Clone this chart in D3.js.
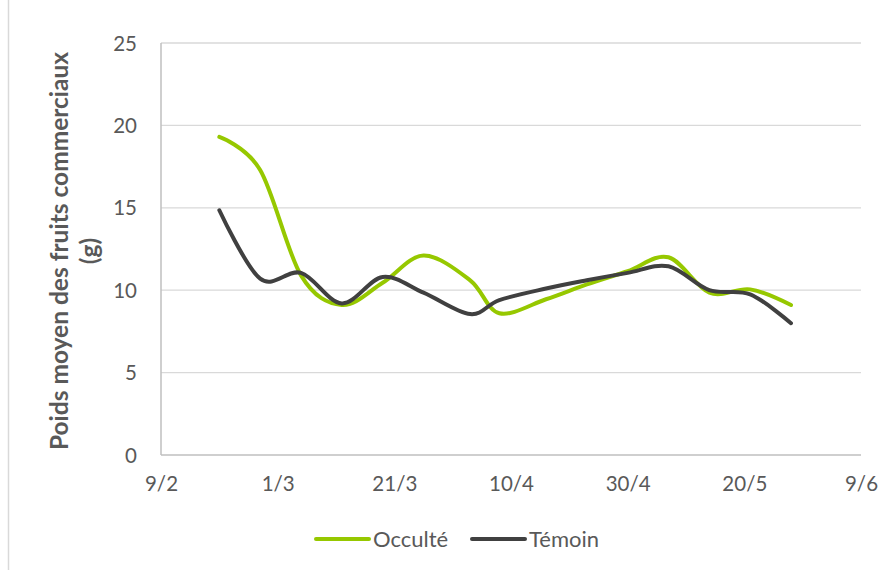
<!DOCTYPE html>
<html><head><meta charset="utf-8">
<script src="https://cdn.jsdelivr.net/npm/d3@7"></script>
<style>body{margin:0;background:#fff;} svg{display:block;}</style>
</head><body>
<svg id="c" width="890" height="570"></svg>
<script>
const dates = ["19/2","26/2","5/3","12/3","19/3","26/3","3/4","8/4","16/4","23/4","30/4","7/5","14/5","21/5","28/5"];
const occulte = [19.3,17.3,10.9,9.1,10.45,12.1,10.6,8.6,9.45,10.35,11.15,12.0,9.85,10.05,9.1];
const temoin  = [14.85,10.7,11.05,9.2,10.8,9.85,8.55,9.4,10.1,10.6,11.05,11.45,10.0,9.75,8.0];
const xTickLabels = ["9/2","1/3","21/3","10/4","30/4","20/5","9/6"];
const yTicks = [0,5,10,15,20,25];
const seriesNames = ["Occulté","Témoin"];
const seriesColors = ["#96C800","#404040"];

const YEAR = 2019;
const parse = s => { const [d,m] = s.split("/").map(Number); return new Date(Date.UTC(YEAR, m-1, d)); };

const svg = d3.select("#c");
const L = 161, R = 861, T = 43, B = 455;
const x = d3.scaleUtc().domain([parse("9/2"), parse("9/6")]).range([L, R]);
const y = d3.scaleLinear().domain([0,25]).range([B, T]);
const font = "Lato, 'Open Sans', sans-serif";
const txt = "#595959";

// chart outer border (left edge)
svg.append("line").attr("x1",8.5).attr("x2",8.5).attr("y1",0).attr("y2",570)
  .attr("stroke","#D9D9D9").attr("stroke-width",1.5);

// gridlines
svg.append("g").selectAll("line").data(yTicks.filter(v=>v>0)).join("line")
  .attr("x1",L).attr("x2",R).attr("y1",d=>y(d)).attr("y2",d=>y(d))
  .attr("stroke","#D9D9D9").attr("stroke-width",1.3);

// axes lines
svg.append("line").attr("x1",L).attr("x2",R).attr("y1",B).attr("y2",B).attr("stroke","#BFBFBF").attr("stroke-width",1.5);
svg.append("line").attr("x1",L).attr("x2",L).attr("y1",T).attr("y2",B).attr("stroke","#BFBFBF").attr("stroke-width",1.5);

// y axis labels
const yAxis = d3.axisLeft(y).tickValues(yTicks).tickSize(0).tickPadding(0);
const gy = svg.append("g").attr("transform",`translate(${L-24},0)`).call(yAxis);
gy.select(".domain").remove();
gy.selectAll("text").attr("font-family",font).attr("font-size",20.5).attr("fill",txt).attr("dy","0.35em");

// x axis labels
const xAxis = d3.axisBottom(x).tickValues(xTickLabels.map(parse)).tickFormat((d,i)=>xTickLabels[i]).tickSize(0).tickPadding(0);
const gx = svg.append("g").attr("transform",`translate(0,${B+21})`).call(xAxis);
gx.select(".domain").remove();
gx.selectAll("text").attr("font-family",font).attr("font-size",20.5).attr("fill",txt).attr("dy","0.71em");

// y axis title
const yt = svg.append("text").attr("transform",`translate(68,${(T+B)/2+2}) rotate(-90)`)
  .attr("text-anchor","middle").attr("font-family",font).attr("font-weight","bold")
  .attr("font-size",24.5).attr("fill",txt);
yt.append("tspan").attr("x",0).attr("dy",0).text("Poids moyen des fruits commerciaux");
yt.append("tspan").attr("x",0).attr("dy",30).text("(g)");

// lines
const line = d3.line().x(d=>x(parse(d[0]))).y(d=>y(d[1])).curve(d3.curveCardinal.tension(0));
[occulte, temoin].forEach((vals,i)=>{
  svg.append("path").datum(dates.map((d,j)=>[d,vals[j]]))
    .attr("d",line).attr("fill","none").attr("stroke",seriesColors[i])
    .attr("stroke-width",4).attr("stroke-linecap","round").attr("stroke-linejoin","round");
});

// legend
const lg = svg.append("g");
const legX = [316, 472];
seriesNames.forEach((n,i)=>{
  lg.append("line").attr("x1",legX[i]).attr("x2",legX[i]+53).attr("y1",539).attr("y2",539)
    .attr("stroke",seriesColors[i]).attr("stroke-width",4).attr("stroke-linecap","round");
  lg.append("text").attr("x",legX[i]+57).attr("y",539).attr("dy","0.35em")
    .attr("font-family",font).attr("font-size",22).attr("fill",txt).text(n);
});
</script>
</body></html>
